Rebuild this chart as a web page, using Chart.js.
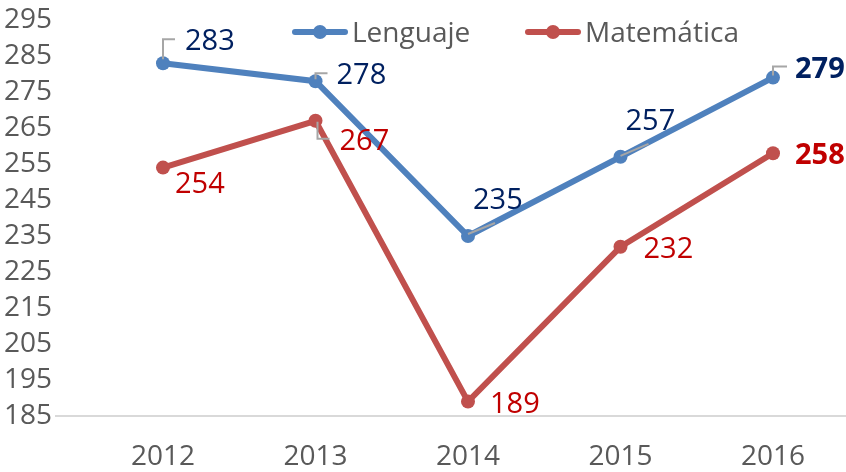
<!DOCTYPE html>
<html>
<head>
<meta charset="utf-8">
<script src="https://cdn.jsdelivr.net/npm/chart.js@4"></script>
<style>
  body { margin: 0; background: #fff; }
</style>
</head>
<body>
<canvas id="chart" width="846" height="472"></canvas>
<script>
const years = ["2012", "2013", "2014", "2015", "2016"];
const lenguaje = [283, 278, 235, 257, 279];
const matematica = [254, 267, 189, 232, 258];
const seriesNames = ["Lenguaje", "Matemática"];
const yMin = 185, yMax = 295, yStep = 10;

const lineColors = ["#4F81BD", "#C0504D"];
const labelColors = ["#002060", "#C00000"];
const FONT = '"Open Sans", sans-serif';

// where each value label sits relative to its point, plus optional leader line
const labelLayout = [
  [
    { dx: 22, dy: -23, leader: [[0, -4], [0, -24], [12, -24]] },
    { dx: 21, dy: -7, leader: [[0, -2], [0, -8], [12, -8]] },
    { dx: 5, dy: -37, leader: [[0, -2], [27, -13]] },
    { dx: 5, dy: -37, leader: [[0, -1], [28, -13]] },
    { dx: 22, dy: -10, leader: [[0, -2], [0, -11], [14, -11]] }
  ],
  [
    { dx: 12, dy: 15 },
    { dx: 24, dy: 19, leader: [[2, 1], [2, 18], [14, 18]] },
    { dx: 22, dy: 1 },
    { dx: 23, dy: 1 },
    { dx: 22, dy: 1 }
  ]
];

const axisLine = {
  id: 'axisLine',
  beforeDatasetsDraw(chart) {
    const { ctx, chartArea } = chart;
    ctx.save();
    ctx.strokeStyle = '#D9D9D9';
    ctx.lineWidth = 2;
    ctx.beginPath();
    ctx.moveTo(55, chartArea.bottom);
    ctx.lineTo(chart.width, chartArea.bottom);
    ctx.stroke();
    ctx.restore();
  }
};

const dataLabels = {
  id: 'dataLabels',
  afterDatasetsDraw(chart) {
    const ctx = chart.ctx;
    ctx.save();
    chart.data.datasets.forEach((ds, i) => {
      const meta = chart.getDatasetMeta(i);
      meta.data.forEach((pt, j) => {
        const lay = labelLayout[i][j];
        if (lay.leader) {
          ctx.strokeStyle = '#A6A6A6';
          ctx.lineWidth = 2;
          ctx.beginPath();
          lay.leader.forEach((p, k) => {
            if (k === 0) ctx.moveTo(pt.x + p[0], pt.y + p[1]);
            else ctx.lineTo(pt.x + p[0], pt.y + p[1]);
          });
          ctx.stroke();
        }
        const last = j === ds.data.length - 1;
        ctx.font = (last ? 'bold ' : '') + '29px ' + FONT;
        ctx.fillStyle = labelColors[i];
        ctx.textAlign = 'left';
        ctx.textBaseline = 'alphabetic';
        ctx.fillText(String(ds.data[j]), pt.x + lay.dx, pt.y + lay.dy + 10);
      });
    });
    ctx.restore();
  }
};

const legendX = [292, 525];
const inlineLegend = {
  id: 'inlineLegend',
  afterDraw(chart) {
    const ctx = chart.ctx;
    const y = 32;
    ctx.save();
    chart.data.datasets.forEach((ds, i) => {
      const x = legendX[i];
      ctx.strokeStyle = ds.borderColor;
      ctx.lineWidth = 6;
      ctx.lineCap = 'round';
      ctx.beginPath();
      ctx.moveTo(x + 3, y);
      ctx.lineTo(x + 53, y);
      ctx.stroke();
      ctx.fillStyle = ds.borderColor;
      ctx.beginPath();
      ctx.arc(x + 28, y, 7, 0, Math.PI * 2);
      ctx.fill();
      ctx.fillStyle = '#595959';
      ctx.font = '28px ' + FONT;
      ctx.textAlign = 'left';
      ctx.textBaseline = 'alphabetic';
      ctx.fillText(ds.label, x + 60, y + 10);
    });
    ctx.restore();
  }
};

new Chart(document.getElementById('chart'), {
  type: 'line',
  data: {
    labels: years,
    datasets: [lenguaje, matematica].map((vals, i) => ({
      label: seriesNames[i],
      data: vals,
      borderColor: lineColors[i],
      backgroundColor: lineColors[i],
      pointBackgroundColor: lineColors[i],
      borderWidth: 6,
      pointRadius: 7,
      pointBorderWidth: 0,
      tension: 0,
      clip: false
    }))
  },
  options: {
    responsive: false,
    animation: false,
    devicePixelRatio: 1,
    layout: { padding: { top: 20, right: 73, left: 0, bottom: 0 } },
    plugins: {
      legend: { display: false },
      tooltip: { enabled: false }
    },
    scales: {
      x: {
        offset: false,
        grid: { display: false },
        border: { display: false },
        ticks: { color: '#595959', font: { family: FONT, size: 28 }, padding: 16, maxRotation: 0 },
        afterFit(scale) { scale.height = 56; scale.paddingLeft = 0; scale.paddingRight = 0; }
      },
      y: {
        min: yMin,
        max: yMax,
        grid: { display: false },
        border: { display: false },
        ticks: { stepSize: yStep, autoSkip: false, color: '#595959', font: { family: FONT, size: 28 }, padding: 103 },
        afterFit(scale) { scale.width = 163; scale.paddingTop = 0; scale.paddingBottom = 0; }
      }
    }
  },
  plugins: [axisLine, dataLabels, inlineLegend]
});
</script>
</body>
</html>
